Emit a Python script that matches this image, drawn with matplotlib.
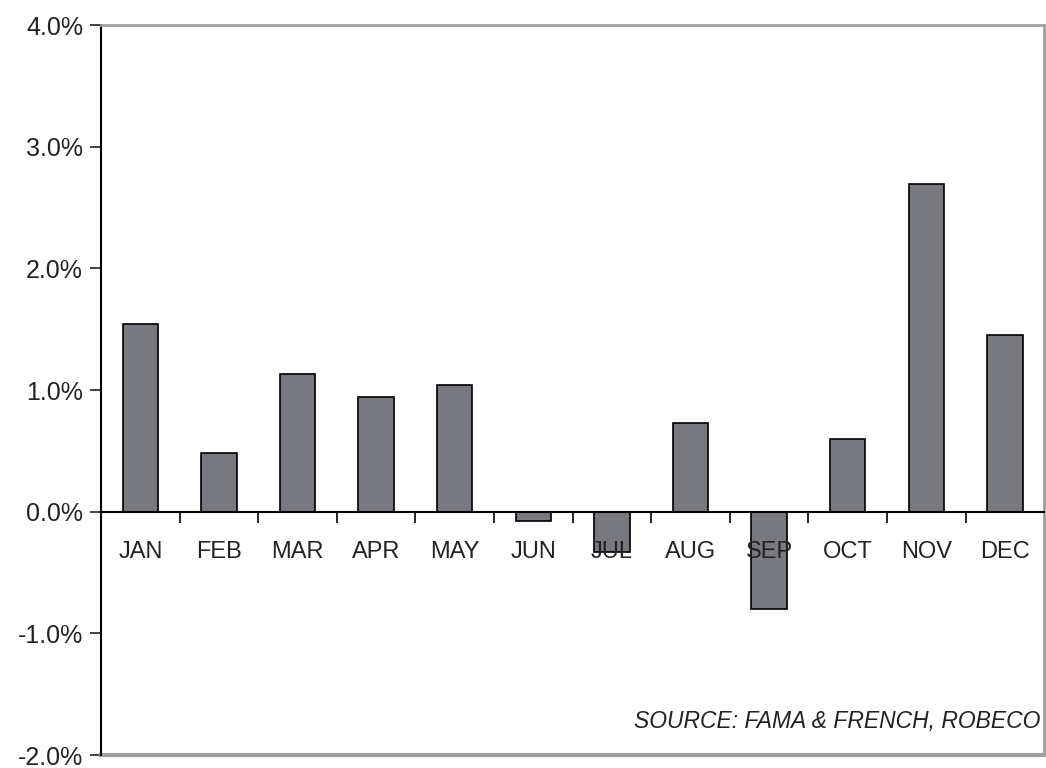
import numpy as np
import matplotlib.pyplot as plt

months = ["JAN", "FEB", "MAR", "APR", "MAY", "JUN",
          "JUL", "AUG", "SEP", "OCT", "NOV", "DEC"]
returns = [1.54, 0.48, 1.13, 0.94, 1.04, -0.08,
           -0.33, 0.73, -0.80, 0.60, 2.69, 1.45]
y_ticks = [-2.0, -1.0, 0.0, 1.0, 2.0, 3.0, 4.0]
source_note = "SOURCE: FAMA & FRENCH, ROBECO"


def main():
    plt.rcParams['font.family'] = ['Liberation Sans', 'DejaVu Sans']

    fig = plt.figure(figsize=(10.46, 7.68), dpi=100)
    ax = fig.add_axes([0.0966, 0.0169, 0.9016, 0.9505])

    x = np.arange(len(months))
    # bars below the axis so the month labels sit on top of them
    ax.bar(x, returns, width=0.45, color='#78787f', edgecolor='black',
           linewidth=1.2, zorder=1)

    ax.set_xlim(-0.5, len(months) - 0.5)
    ax.set_ylim(-2.0, 4.0)

    # frame: black left spine and zero axis, gray box elsewhere
    frame_gray = '#a0a0a0'
    ax.spines['left'].set_color('black')
    ax.spines['left'].set_linewidth(1.5)
    ax.spines['top'].set_color(frame_gray)
    ax.spines['top'].set_linewidth(2)
    ax.spines['right'].set_color(frame_gray)
    ax.spines['right'].set_linewidth(2)
    ax.spines['bottom'].set_position(('data', 0))
    ax.spines['bottom'].set_color('black')
    ax.spines['bottom'].set_linewidth(1.5)
    ax.spines['bottom'].set_zorder(3)
    ax.axhline(-2.0, color=frame_gray, linewidth=3, clip_on=False)

    ax.set_yticks(y_ticks)
    ax.set_yticklabels([f"{v:.1f}%" for v in y_ticks])
    ax.tick_params(axis='y', direction='out', length=8, width=1.2,
                   labelsize=18, pad=5, colors='#222222')

    ax.set_xticks(x)
    ax.set_xticklabels(months)
    ax.tick_params(axis='x', which='major', length=0, labelsize=17, pad=21,
                   labelcolor='#222222')
    ax.set_xticks(x[:-1] + 0.5, minor=True)
    ax.tick_params(axis='x', which='minor', direction='out', length=8, width=1.2)

    ax.text(0.996, 0.046, source_note, transform=ax.transAxes,
            ha='right', va='center', fontsize=16.5, style='italic',
            color='#222222')

    fig.savefig("out.png", dpi=100)


if __name__ == '__main__':
    main()
